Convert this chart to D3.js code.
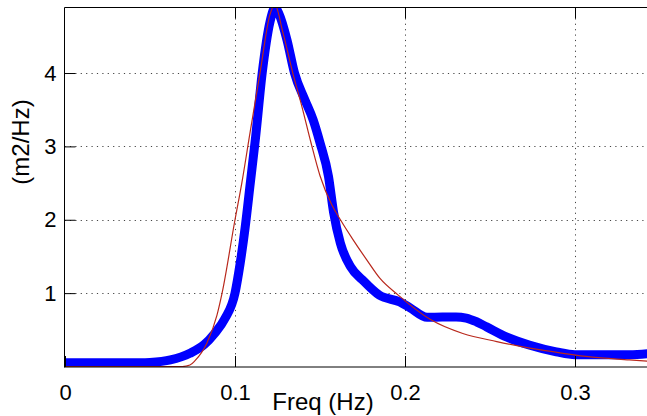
<!DOCTYPE html>
<html><head><meta charset="utf-8">
<script src="https://cdn.jsdelivr.net/npm/d3@7"></script>
<style>html,body{margin:0;padding:0;background:#fff;overflow:hidden}</style>
</head><body>
<svg id="c" width="647" height="416"></svg>
<script>
// Data
const blueFreq = [0, 0.02, 0.045, 0.05, 0.062, 0.0735, 0.082, 0.088, 0.094, 0.1, 0.103, 0.106, 0.109, 0.112, 0.116, 0.1206, 0.1235, 0.126, 0.1306, 0.135, 0.141, 0.146, 0.15, 0.155, 0.158, 0.162, 0.168, 0.175, 0.185, 0.197, 0.203, 0.213, 0.222, 0.23, 0.236, 0.242, 0.248, 0.26, 0.2735, 0.289, 0.3, 0.315, 0.332, 0.35];
const blueVal  = [0.05, 0.05, 0.05, 0.055, 0.09, 0.18, 0.3, 0.45, 0.65, 1.0, 1.4, 1.9, 2.5, 3.1, 4.0, 4.7, 4.89, 4.8, 4.45, 4.0, 3.64, 3.36, 3.05, 2.59, 2.1, 1.68, 1.36, 1.18, 0.97, 0.88, 0.8, 0.67, 0.675, 0.675, 0.66, 0.61, 0.54, 0.4, 0.29, 0.2, 0.16, 0.16, 0.16, 0.19];
const redFreq  = [0, 0.069, 0.0735, 0.0765, 0.0835, 0.0894, 0.0924, 0.1, 0.104, 0.1088, 0.1147, 0.1206, 0.1235, 0.1282, 0.134, 0.1394, 0.1447, 0.15, 0.157, 0.162, 0.1694, 0.1776, 0.1853, 0.1962, 0.215, 0.234, 0.254, 0.2735, 0.293, 0.309, 0.332, 0.35];
const redVal   = [0, 0.0, 0.02, 0.08, 0.32, 0.7, 1.0, 2.0, 2.5, 3.18, 4.0, 4.8, 4.93, 4.55, 4.0, 3.54, 3.05, 2.6, 2.2, 2.0, 1.73, 1.45, 1.2, 0.97, 0.64, 0.45, 0.34, 0.25, 0.18, 0.13, 0.09, 0.06];
const xTicks = [0, 0.1, 0.2, 0.3];
const xTickLabels = ["0", "0.1", "0.2", "0.3"];
const yTicks = [1, 2, 3, 4];
const yTickLabels = ["1", "2", "3", "4"];
const xLabel = "Freq (Hz)";
const yLabel = "(m2/Hz)";

const svg = d3.select("#c");
const L = 64.5, T = 7.5, R = 660, B = 367;
const x = d3.scaleLinear().domain([0, 0.35]).range([65, 65 + 0.35 * 1700]);
const y = d3.scaleLinear().domain([0, 4.9]).range([366.5, 7]);

svg.append("defs").append("clipPath").attr("id", "clip")
  .append("rect").attr("x", L).attr("y", T).attr("width", R - L).attr("height", B - T);

const font = "Arial, 'Liberation Sans', Helvetica, sans-serif";

// grid
const grid = svg.append("g").attr("stroke", "#444").attr("stroke-width", 1).attr("stroke-dasharray", "1.2,4.2");
grid.selectAll(".gx").data(xTicks.filter(d => d > 0)).enter().append("line")
  .attr("x1", d => Math.round(x(d)) + 0.5).attr("x2", d => Math.round(x(d)) + 0.5)
  .attr("y1", T).attr("y2", B);
grid.selectAll(".gy").data(yTicks).enter().append("line")
  .attr("y1", d => Math.round(y(d)) + 0.5).attr("y2", d => Math.round(y(d)) + 0.5)
  .attr("x1", L).attr("x2", R);

// curves
const plot = svg.append("g").attr("clip-path", "url(#clip)");
const line = d3.line().x(d => x(d[0])).y(d => y(d[1])).curve(d3.curveMonotoneX);
plot.append("path").datum(blueFreq.map((f, i) => [f, blueVal[i]]))
  .attr("d", line).attr("fill", "none").attr("stroke", "#0000ff")
  .attr("stroke-width", 9).attr("stroke-linejoin", "round").attr("stroke-linecap", "round");
plot.append("path").datum(redFreq.map((f, i) => [f, redVal[i]]))
  .attr("d", line).attr("fill", "none").attr("stroke", "#b8281c")
  .attr("stroke-width", 1.2);

// axes
const xAxis = d3.axisBottom(x).tickValues(xTicks).tickFormat((d, i) => xTickLabels[i]).tickSizeInner(-11).tickSizeOuter(0).tickPadding(17);
const gx = svg.append("g").attr("transform", `translate(0,${B})`).call(xAxis);
gx.select(".domain").remove();
gx.selectAll("line").attr("stroke", "#000");
gx.selectAll("text").attr("font-family", font).attr("font-size", 22).attr("fill", "#000");

const xAxisTop = d3.axisTop(x).tickValues(xTicks.filter(d => d > 0)).tickSizeInner(-11).tickSizeOuter(0).tickFormat("");
const gxt = svg.append("g").attr("transform", `translate(0,${T})`).call(xAxisTop);
gxt.select(".domain").remove();
gxt.selectAll("line").attr("stroke", "#000");

const yAxis = d3.axisLeft(y).tickValues(yTicks).tickFormat((d, i) => yTickLabels[i]).tickSizeInner(-11).tickSizeOuter(0).tickPadding(8);
const gy = svg.append("g").attr("transform", `translate(${L},0)`).call(yAxis);
gy.select(".domain").remove();
gy.selectAll("line").attr("stroke", "#000");
gy.selectAll("text").attr("font-family", font).attr("font-size", 22).attr("fill", "#000");

// box lines
svg.append("line").attr("x1", L).attr("x2", L).attr("y1", T).attr("y2", B + 0.5).attr("stroke", "#000");
svg.append("line").attr("x1", L).attr("x2", R).attr("y1", B).attr("y2", B).attr("stroke", "#000");
svg.append("line").attr("x1", L).attr("x2", R).attr("y1", T).attr("y2", T).attr("stroke", "#000");

// labels
svg.append("text").attr("x", 323).attr("y", 410).attr("text-anchor", "middle")
  .attr("font-family", font).attr("font-size", 24).attr("fill", "#000").text(xLabel);
svg.append("text").attr("transform", "translate(29,142) rotate(-90)").attr("text-anchor", "middle")
  .attr("font-family", font).attr("font-size", 24).attr("fill", "#000").text(yLabel);
</script>
</body></html>
